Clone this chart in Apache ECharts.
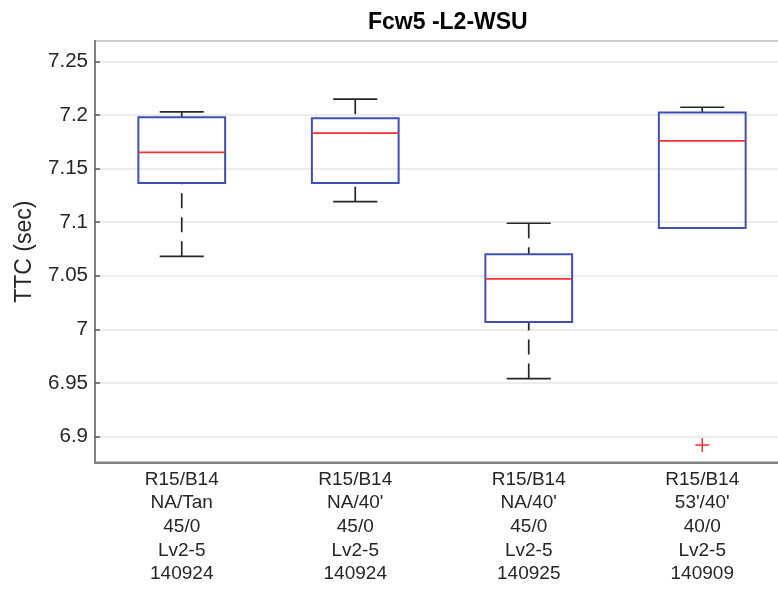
<!DOCTYPE html>
<html>
<head>
<meta charset="utf-8">
<script src="https://cdn.jsdelivr.net/npm/echarts@6/dist/echarts.min.js"></script>
<style>
  html, body { margin: 0; padding: 0; background: #fff; }
  #chart { width: 778px; height: 590px; }
</style>
</head>
<body>
<div id="chart"></div>
<script>
// Test conditions shown under each box
const categories = [
  'R15/B14\nNA/Tan\n45/0\nLv2-5\n140924',
  'R15/B14\nNA/40\'\n45/0\nLv2-5\n140924',
  'R15/B14\nNA/40\'\n45/0\nLv2-5\n140925',
  'R15/B14\n53\'/40\'\n40/0\nLv2-5\n140909'
];

// Box-plot statistics of TTC (sec) per condition
const lowerWhisker = [7.068, 7.119, 6.954, 7.0945];
const q1           = [7.1365, 7.1365, 7.0068, 7.0945];
const median       = [7.165, 7.183, 7.047, 7.1757];
const q3           = [7.1978, 7.1968, 7.070, 7.2021];
const upperWhisker = [7.2027, 7.2146, 7.0989, 7.2071];

// Outliers as [category index, value]
const outliers = [[3, 6.892]];

// Y axis range and tick step
const yMin = 6.8757;
const yMax = 7.2689;
const yStep = 0.05;

const FONT = '"Liberation Sans", Arial, Helvetica, sans-serif';
const BOX_COLOR = '#3f4fb6';
const MEDIAN_COLOR = '#f03232';
const WHISKER_COLOR = '#262626';

const boxData = categories.map((c, i) => [i, lowerWhisker[i], q1[i], median[i], q3[i], upperWhisker[i]]);

function renderBox(params, api) {
  const i = api.value(0);
  const band = api.size([1, 0])[0];
  const boxHalf = band * 0.25;
  const capHalf = band * 0.127;
  const pLo = api.coord([i, api.value(1)]);
  const pQ1 = api.coord([i, api.value(2)]);
  const pMed = api.coord([i, api.value(3)]);
  const pQ3 = api.coord([i, api.value(4)]);
  const pHi = api.coord([i, api.value(5)]);
  const x = pMed[0];
  const whiskerStyle = { stroke: WHISKER_COLOR, lineWidth: 1.7, lineDash: [15, 9] };
  const capStyle = { stroke: WHISKER_COLOR, lineWidth: 1.7 };
  return {
    type: 'group',
    children: [
      // whiskers, dashed from the end toward the box
      { type: 'line', shape: { x1: x, y1: pHi[1], x2: x, y2: pQ3[1] }, style: whiskerStyle },
      { type: 'line', shape: { x1: x, y1: pLo[1], x2: x, y2: pQ1[1] }, style: whiskerStyle },
      // whisker caps
      { type: 'line', shape: { x1: x - capHalf, y1: pHi[1], x2: x + capHalf, y2: pHi[1] }, style: capStyle },
      { type: 'line', shape: { x1: x - capHalf, y1: pLo[1], x2: x + capHalf, y2: pLo[1] }, style: capStyle },
      // box
      {
        type: 'rect',
        shape: { x: x - boxHalf, y: pQ3[1], width: boxHalf * 2, height: pQ1[1] - pQ3[1] },
        style: { fill: 'rgba(255,255,255,0)', stroke: BOX_COLOR, lineWidth: 2 }
      },
      // median
      {
        type: 'line',
        shape: { x1: x - boxHalf, y1: pMed[1], x2: x + boxHalf, y2: pMed[1] },
        style: { stroke: MEDIAN_COLOR, lineWidth: 1.6 }
      }
    ]
  };
}

function renderOutlier(params, api) {
  const p = api.coord([api.value(0), api.value(1)]);
  const h = 7;
  const style = { stroke: MEDIAN_COLOR, lineWidth: 1.5 };
  return {
    type: 'group',
    children: [
      { type: 'line', shape: { x1: p[0] - h, y1: p[1], x2: p[0] + h, y2: p[1] }, style },
      { type: 'line', shape: { x1: p[0], y1: p[1] - h, x2: p[0], y2: p[1] + h }, style }
    ]
  };
}

const chart = echarts.init(document.getElementById('chart'), null, { renderer: 'canvas' });

chart.setOption({
  animation: false,
  backgroundColor: '#ffffff',
  title: {
    text: 'Fcw5 -L2-WSU',
    left: 363,
    top: 6,
    textStyle: { fontFamily: FONT, fontSize: 23, fontWeight: 'bold', color: '#000' }
  },
  grid: {
    left: 95,
    top: 41,
    width: 694,
    height: 421.5,
    outerBoundsMode: 'none',
    containLabel: false,
    show: true,
    borderColor: '#808080',
    borderWidth: 2,
    backgroundColor: '#ffffff'
  },
  xAxis: {
    type: 'category',
    data: categories,
    boundaryGap: true,
    axisLine: { show: true, lineStyle: { color: '#808080', width: 2 } },
    axisTick: { show: false },
    splitLine: { show: false },
    axisLabel: {
      interval: 0,
      margin: 5,
      fontFamily: FONT,
      fontSize: 19,
      lineHeight: 23.7,
      color: '#262626'
    }
  },
  yAxis: {
    type: 'value',
    min: yMin,
    max: yMax,
    minInterval: yStep,
    maxInterval: yStep,
    splitNumber: 8,
    name: 'TTC (sec)',
    nameLocation: 'middle',
    nameGap: 59,
    nameTextStyle: { fontFamily: FONT, fontSize: 23, color: '#262626' },
    axisLine: { show: true, lineStyle: { color: '#808080', width: 2 } },
    axisTick: { show: true, inside: true, length: 5, lineStyle: { color: '#555', width: 1.5 } },
    splitLine: { show: true, lineStyle: { color: '#e6e6e6', width: 1.5 } },
    axisLabel: {
      margin: 7,
      showMinLabel: false,
      showMaxLabel: false,
      fontFamily: FONT,
      fontSize: 20.5,
      color: '#262626',
      formatter: v => String(+v.toFixed(2))
    }
  },
  series: [
    {
      type: 'custom',
      name: 'TTC',
      renderItem: renderBox,
      encode: { x: 0, y: [1, 2, 3, 4, 5] },
      data: boxData,
      z: 3
    },
    {
      type: 'custom',
      name: 'Outliers',
      renderItem: renderOutlier,
      encode: { x: 0, y: 1 },
      data: outliers,
      z: 4
    }
  ]
});
</script>
</body>
</html>
